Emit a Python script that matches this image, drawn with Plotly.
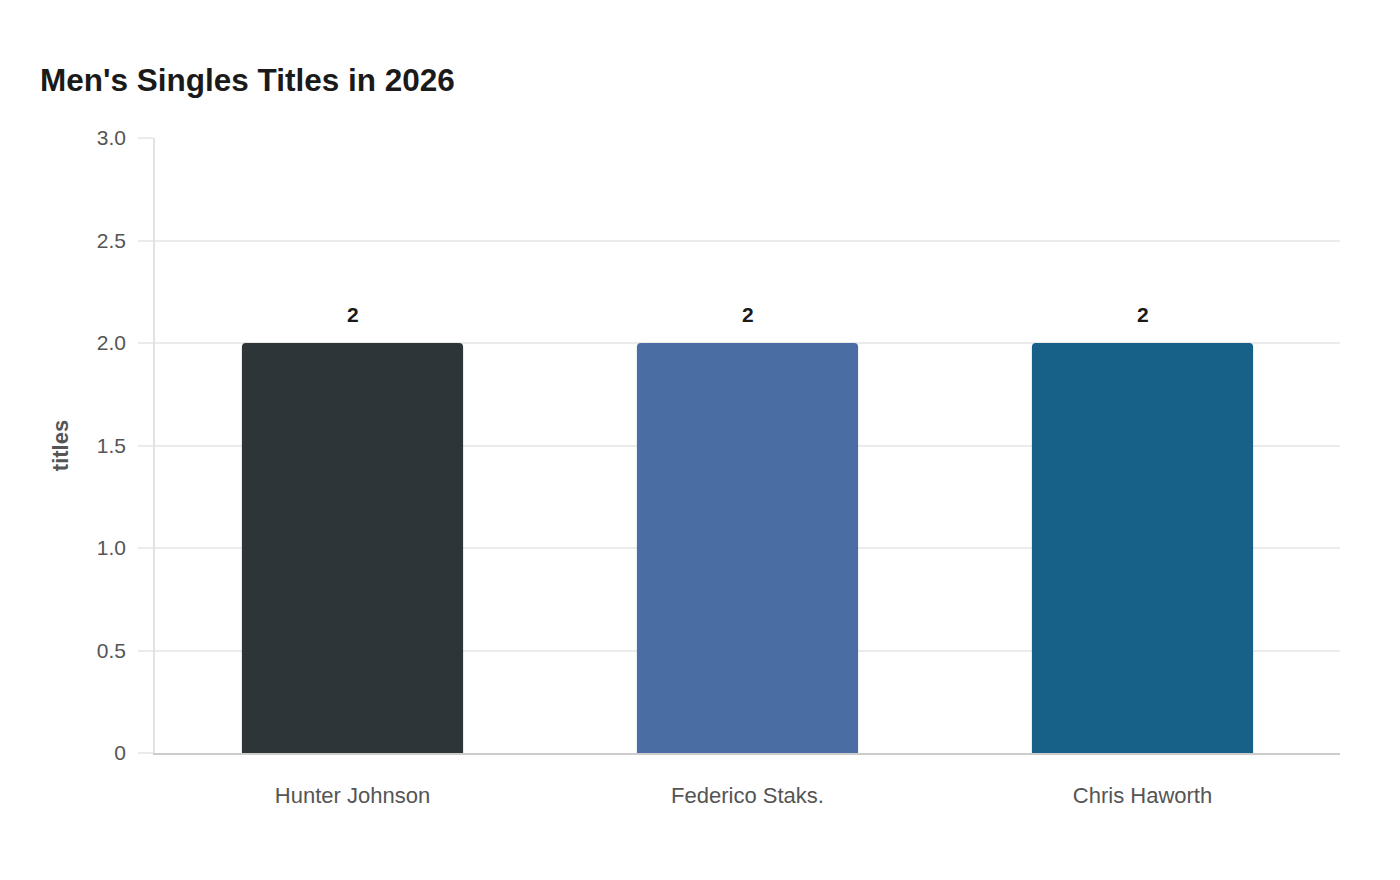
import plotly.graph_objects as go

players = ["Hunter Johnson", "Federico Staks.", "Chris Haworth"]
titles = [2, 2, 2]
bar_colors = ["#2e3538", "#4a6ea3", "#176087"]
y_tickvals = [0, 0.5, 1, 1.5, 2, 2.5, 3]
y_ticktext = ["0", "0.5", "1.0", "1.5", "2.0", "2.5", "3.0"]

font_family = "Liberation Sans, Arial, sans-serif"

fig = go.Figure()
fig.add_trace(go.Bar(
    x=players,
    y=titles,
    marker=dict(color=bar_colors, cornerradius=4, line=dict(width=0)),
    hoverinfo="x+y",
))

# value labels sit a bit above each bar
for p, t in zip(players, titles):
    fig.add_annotation(x=p, y=t, text="<b>%d</b>" % t, showarrow=False,
                       yshift=29, font=dict(size=21, color="#1a1a1a", family=font_family))

fig.update_layout(
    width=1400, height=880,
    paper_bgcolor="white", plot_bgcolor="white",
    font=dict(family=font_family, size=21, color="#555555"),
    title=dict(text="<b>Men's Singles Titles in 2026</b>",
               x=32 / 1400, xref="container", xanchor="left",
               y=1 - 72 / 880, yref="container", yanchor="middle",
               font=dict(size=31.5, color="#1a1a1a", family=font_family)),
    margin=dict(l=147, r=68, t=130, b=135),
    bargap=0.44,
    showlegend=False,
)

fig.update_xaxes(
    showgrid=False, showline=True, linecolor="#cccccc", linewidth=2,
    ticks="", ticklabelstandoff=22,
    tickfont=dict(size=22, color="#555555"),
)
fig.update_yaxes(
    range=[0, 3], tickvals=y_tickvals, ticktext=y_ticktext,
    showgrid=True, gridcolor="#ebebeb", gridwidth=1.5,
    zeroline=False, showline=True, linecolor="#e3e3e3", linewidth=1.5,
    ticks="outside", ticklen=15, tickcolor="#ebebeb", tickwidth=1.5,
    ticklabelstandoff=8,
    tickfont=dict(size=21, color="#555555"),
    title=dict(text="<b>titles</b>", standoff=22, font=dict(size=22, color="#555555")),
)

fig.write_html("out.html")
